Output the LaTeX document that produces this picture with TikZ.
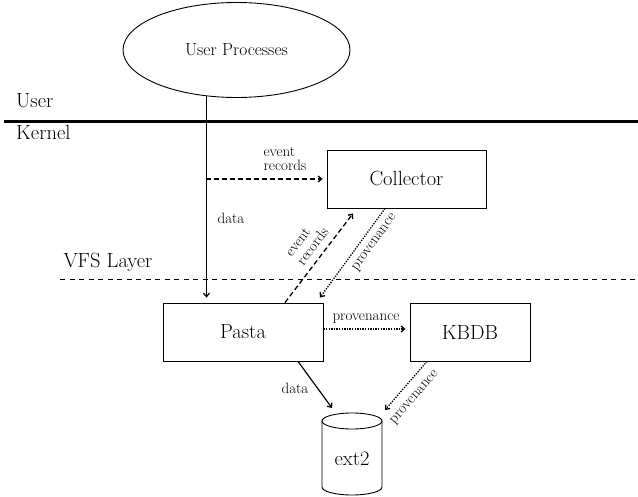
\documentclass[tikz,border=0pt]{standalone}
\usetikzlibrary{arrows.meta,shapes.geometric,calc}
\begin{document}
\begin{tikzpicture}[x=1pt,y=-1pt,
  bigf/.style={font=\fontsize{20.5}{22}\selectfont},
  lab/.style={font=\fontsize{15}{14.5}\selectfont, inner sep=0pt},
  blk/.style={draw, line width=0.9pt, minimum height=58pt, inner sep=0pt, bigf},
  tip/.style={-{Straight Barb[length=3.5pt,width=6pt]}},
  solidline/.style={tip, line width=1.2pt},
  dotline/.style={tip, line width=1.3pt, dash pattern=on 1.3pt off 1.3pt},
  dashline/.style={tip, line width=1.3pt, dash pattern=on 5pt off 3pt}]
\useasboundingbox (0,0) rectangle (638,497);

% layers
\node[bigf, anchor=base west] (luser) at (12.7,108) {User};
\node[bigf, anchor=base west] (lkern) at (12.7,140) {Kernel};
\node[bigf, anchor=base west] (lvfs) at (60,268) {VFS Layer};
\draw[line width=2.8pt] (4,121.7) -- (638,121.7);
\draw[line width=0.9pt, dash pattern=on 5pt off 4.5pt] (60,279) -- (638,279);

% nodes
\node[draw, ellipse, line width=0.9pt, minimum width=227pt, minimum height=95pt,
      inner sep=0pt, font=\fontsize{17.5}{20}\selectfont] (up) at (236.5,50) {User Processes};
\node[blk, minimum width=159pt] (collector) at (406.5,179) {Collector};
\node[blk, minimum width=160pt] (pasta) at (243,332) {Pasta};
\node[blk, minimum width=120pt] (kbdb) at (470,332) {KBDB};

% cylinder
\draw[line width=0.9pt] (352,421) ellipse [x radius=30, y radius=8];
\draw[line width=0.9pt] (322,421) -- (322,487)
  arc[start angle=180, end angle=0, x radius=30, y radius=8] -- (382,421);
\node[bigf] (ext2) at (352,459) {ext2};

% connectors
\draw[solidline, shorten >=5pt] (up.237.25) -- (pasta.north -| up.237.25);
\draw[dashline, shorten >=4pt] (collector.west -| up.237.25) -- (collector.west);
\draw[dashline] ([xshift=42pt]pasta.north) -- ([xshift=-53.5pt,yshift=-5pt]collector.south);
\draw[dotline] ([xshift=-21.5pt]collector.south) -- ([xshift=77pt,yshift=5pt]pasta.north);
\draw[dotline] ([yshift=3pt]pasta.east) -- ([xshift=-4pt,yshift=3pt]kbdb.west);
\draw[solidline] ([xshift=55pt]pasta.south) -- ([xshift=-20pt,yshift=51pt]ext2.center);
\draw[dotline] ([xshift=-43pt]kbdb.south) -- ([xshift=33pt,yshift=49pt]ext2.center);

% labels
\node[lab, align=left] (l1) at (285,159) {event\\records};
\node[lab] (l2) at (231,218) {data};
\node[lab, align=left, rotate=53] (l3) at (307,242) {event\\records};
\node[lab, rotate=54] (l4) at (375,243) {provenance};
\node[lab] (l5) at (366,319) {provenance};
\node[lab] (l6) at (295,388) {data};
\node[lab, rotate=49] (l7) at (415,398) {provenance};
\end{tikzpicture}
\end{document}
